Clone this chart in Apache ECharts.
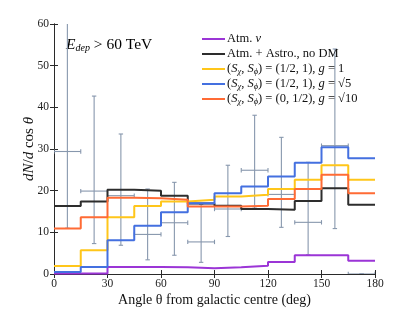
<!DOCTYPE html>
<html>
<head>
<meta charset="utf-8">
<script src="https://cdn.jsdelivr.net/npm/echarts@6/dist/echarts.min.js"></script>
<style>html,body{margin:0;padding:0;background:#fff}#c{width:415px;height:312px}</style>
</head>
<body>
<div id="c"></div>
<script>
// bin edges (deg)
const binEdges = [0, 15, 30, 45, 60, 75, 90, 105, 120, 135, 150, 165, 180];
// histogram values per bin
const atmNu      = [0.15, 0.15, 1.7, 1.7, 1.6, 1.4, 1.6, 2.0, 2.9, 4.5, 4.5, 3.2];
const atmAstro   = [16.3, 17.4, 20.2, 20.0, 18.8, 16.9, 16.4, 15.6, 15.4, 17.5, 20.6, 16.6];
const dmYellow   = [1.9, 5.7, 13.6, 16.3, 17.4, 17.8, 18.6, 19.0, 20.4, 22.6, 26.1, 22.6];
const dmBlue     = [0.5, 1.7, 8.1, 11.6, 14.8, 17.0, 19.4, 21.0, 23.4, 26.7, 30.4, 27.8];
const dmOrange   = [10.9, 13.6, 18.3, 18.2, 17.8, 16.2, 16.2, 16.4, 18.0, 20.4, 23.8, 19.4];
// data points with error bars
const obsVal = [29.4, 19.9, 18.8, 9.5, 12.3, 7.7, 15.6, 24.9, 19.1, 12.4, 30.8, 0];
const obsLo  = [11.0, 7.3, 6.9, 3.4, 4.5, 2.8, 9.0, 15.8, 11.2, 4.6, 10.9, 0];
const obsHi  = [62, 42.7, 33.6, 20.4, 22.0, 16.7, 26.1, 38.1, 32.8, 26.8, 54, 0];
const xTicks = [0, 30, 60, 90, 120, 150, 180];
const yTicks = [0, 10, 20, 30, 40, 50, 60];

const serif = '"Liberation Serif", "DejaVu Serif", serif';
const axisColor = '#2a2a2a';
const errColor = '#8797ad';

function stepData(vals) {
  const d = vals.map((v, i) => [binEdges[i], v]);
  d.push([binEdges[binEdges.length - 1], vals[vals.length - 1]]);
  return d;
}
const errData = obsVal.map((v, i) => [
  (binEdges[i] + binEdges[i + 1]) / 2, v, obsLo[i], obsHi[i], binEdges[i], binEdges[i + 1]
]);

function renderErr(params, api) {
  const x = api.value(0), y = api.value(1), lo = api.value(2), hi = api.value(3);
  const pl = api.coord([x, lo]), ph = api.coord([x, hi]);
  const pa = api.coord([api.value(4), y]), pb = api.coord([api.value(5), y]);
  const c = 2.2;
  const st = { stroke: errColor, lineWidth: 1.1, fill: null };
  const L = (x1, y1, x2, y2) => ({ type: 'line', shape: { x1, y1, x2, y2 }, style: st });
  return {
    type: 'group',
    children: [
      L(pl[0], pl[1], ph[0], ph[1]),
      L(pl[0] - c, pl[1], pl[0] + c, pl[1]),
      L(ph[0] - c, ph[1], ph[0] + c, ph[1]),
      L(pa[0], pa[1], pb[0], pb[1]),
      L(pa[0], pa[1] - c, pa[0], pa[1] + c),
      L(pb[0], pb[1] - c, pb[0], pb[1] + c)
    ]
  };
}

const LF = 12.5;
const rich = {
  it: { fontFamily: serif, fontStyle: 'italic', fontSize: LF, color: '#111', lineHeight: 14 },
  sub: { fontFamily: serif, fontStyle: 'italic', fontSize: 8.5, color: '#111', lineHeight: 10, verticalAlign: 'bottom' },
  n: { fontFamily: serif, fontSize: LF, color: '#111', lineHeight: 14 }
};
const legendNames = ['nu', 'astro', 'y', 'b', 'o'];
const legendText = {
  nu: '{n|Atm. }{it|ν}',
  astro: '{n|Atm. + Astro., no DM}',
  y: '{n|(}{it|S}{sub|χ}{n|, }{it|S}{sub|ϕ}{n|) = (1/2, 1), }{it|g}{n| = 1}',
  b: '{n|(}{it|S}{sub|χ}{n|, }{it|S}{sub|ϕ}{n|) = (1/2, 1), }{it|g}{n| = √5}',
  o: '{n|(}{it|S}{sub|χ}{n|, }{it|S}{sub|ϕ}{n|) = (0, 1/2), }{it|g}{n| = √10}'
};

function stepSeries(name, vals, color, z) {
  return {
    name, type: 'line', step: 'end', data: stepData(vals), showSymbol: false, symbol: 'none',
    lineStyle: { color, width: 2 }, itemStyle: { color }, z, animation: false
  };
}

const axisCommon = {
  type: 'value', min: 0,
  axisLine: { show: true, lineStyle: { color: axisColor, width: 1 } },
  axisTick: { show: true, inside: true, length: 4, lineStyle: { color: axisColor } },
  splitLine: { show: false }
};

const chart = echarts.init(document.getElementById('c'));
chart.setOption({
  animation: false,
  backgroundColor: '#fff',
  grid: { left: 54, right: 40, top: 24, bottom: 35 },
  xAxis: [
    Object.assign({}, axisCommon, {
      max: 180, interval: 30, position: 'bottom',
      axisLabel: { fontFamily: serif, fontSize: 11.5, color: '#222', margin: 4,
        formatter: v => xTicks.includes(v) ? String(v) : '' },
      name: 'Angle θ from galactic centre (deg)',
      nameLocation: 'middle', nameGap: 19, nameMoveOverlap: false,
      nameTextStyle: { fontFamily: serif, fontSize: 14, color: '#111' }
    }),
    Object.assign({}, axisCommon, { max: 180, interval: 30, position: 'top', axisLabel: { show: false } })
  ],
  yAxis: [
    Object.assign({}, axisCommon, {
      max: 60, interval: 10, position: 'left',
      axisLabel: { fontFamily: serif, fontSize: 11.5, color: '#222', margin: 5,
        formatter: v => yTicks.includes(v) ? String(v) : '' },
      name: '{it|dN}{n|/}{it|d}{n| cos }{it|θ}',
      nameLocation: 'middle', nameGap: 17, nameRotate: 90, nameMoveOverlap: false,
      nameTextStyle: { rich: {
        it: { fontFamily: serif, fontStyle: 'italic', fontSize: 15, color: '#111' },
        n: { fontFamily: serif, fontSize: 15, color: '#111' }
      } }
    }),
    Object.assign({}, axisCommon, { max: 60, interval: 10, position: 'right', axisLabel: { show: false } })
  ],
  legend: {
    data: legendNames,
    orient: 'vertical', left: 197, top: 27,
    icon: 'rect', itemWidth: 23, itemHeight: 2, itemGap: 1,
    formatter: name => legendText[name],
    textStyle: { rich, lineHeight: 14, padding: [0, 0, 0, -3] },
    selectedMode: false
  },
  graphic: [{
    type: 'text', left: 66, top: 37,
    style: {
      text: '{it|E}{sub|dep}{n| > 60 TeV}',
      rich: {
        it: { fontFamily: serif, fontStyle: 'italic', fontSize: 15.5, color: '#111', lineHeight: 17 },
        sub: { fontFamily: serif, fontStyle: 'italic', fontSize: 10, color: '#111', lineHeight: 11, verticalAlign: 'bottom' },
        n: { fontFamily: serif, fontSize: 15.5, color: '#111', lineHeight: 17 }
      }
    }
  }],
  series: [
    {
      name: 'err', type: 'custom', renderItem: renderErr, data: errData, clip: true, z: 1,
      encode: { x: 0, y: 1 }, animation: false
    },
    stepSeries('nu', atmNu, '#9b35d6', 3),
    stepSeries('astro', atmAstro, '#2d2d2d', 3),
    stepSeries('y', dmYellow, '#ffc61a', 3),
    stepSeries('b', dmBlue, '#4470e0', 3),
    stepSeries('o', dmOrange, '#ff6b35', 3)
  ]
});
</script>
</body>
</html>
